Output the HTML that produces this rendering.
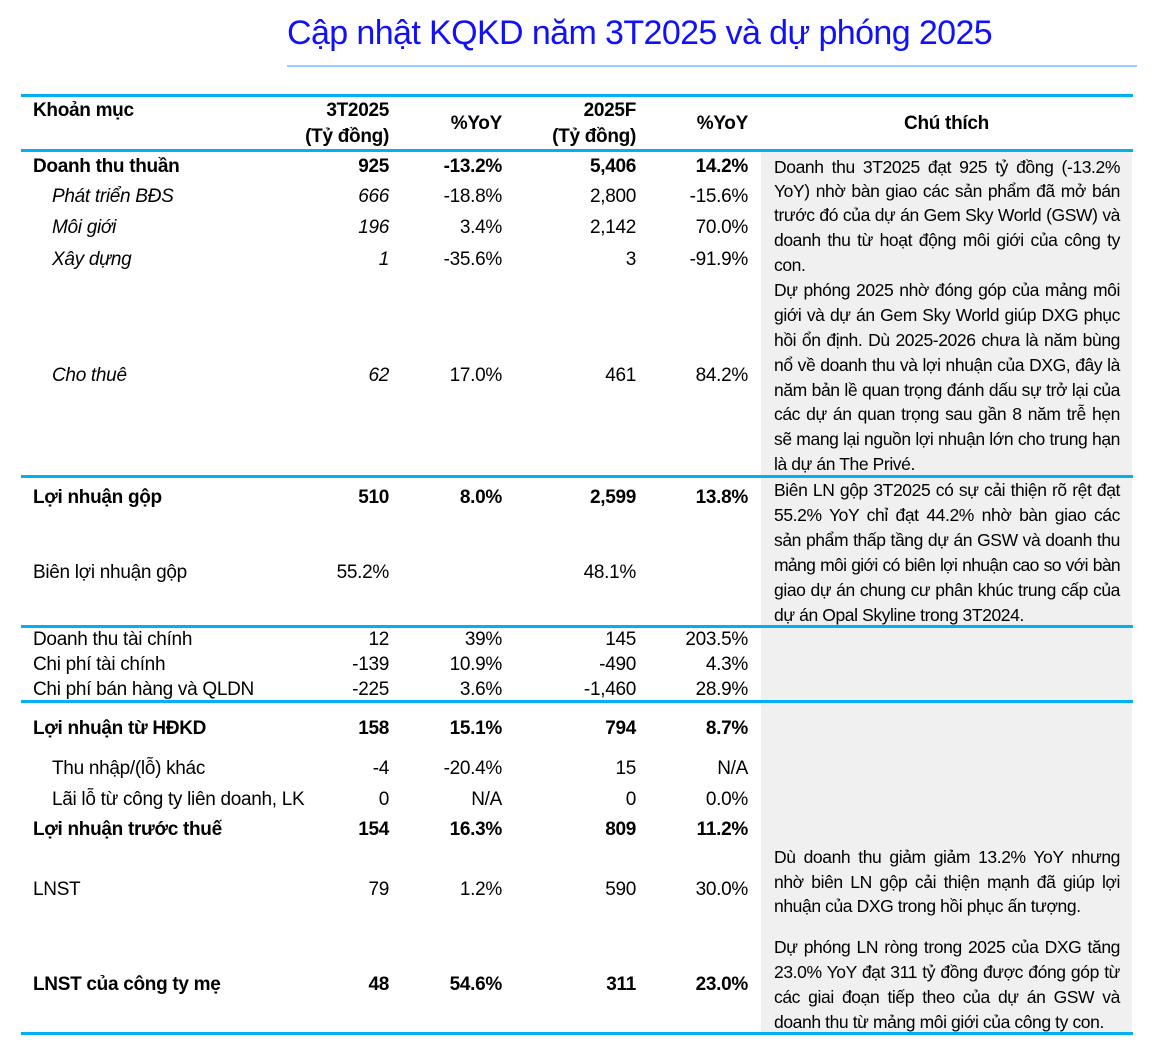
<!DOCTYPE html>
<html><head><meta charset="utf-8">
<style>
body{margin:0;width:1159px;height:1046px;background:#fff;position:relative;overflow:hidden;font-family:"Liberation Sans","DejaVu Sans",sans-serif;color:#000}
.a{position:absolute;line-height:24px;height:24px;font-size:19px;white-space:nowrap;letter-spacing:-0.3px}
.r{text-align:right;width:140px}
.b{font-weight:bold}
.i{font-style:italic}
.hl{position:absolute;left:21px;width:1112px;height:3px;background:#00b0f0}
.n{position:absolute;left:774px;width:346px;font-size:17.5px;line-height:24px;height:24px;white-space:nowrap;text-align:justify;text-align-last:justify;letter-spacing:-0.4px}
.n.l{text-align-last:left}
</style></head><body>
<div style="position:absolute;left:287px;top:14px;width:705px;text-align:center;font-size:34px;color:#1010ff;white-space:nowrap;letter-spacing:-0.6px">Cập nhật KQKD năm 3T2025 và dự phóng 2025</div>
<div style="position:absolute;left:287px;top:65px;width:850px;height:2px;background:#99ccff"></div>
<div style="position:absolute;left:761px;top:152px;width:371px;height:881px;background:#f0f0f0"></div>
<div class="hl" style="top:94px"></div>
<div class="hl" style="top:149px"></div>
<div class="hl" style="top:475px"></div>
<div class="hl" style="top:625px"></div>
<div class="hl" style="top:700px"></div>
<div class="hl" style="top:1032px"></div>

<div>
<div class="a b" style="left:33px;top:99px">Khoản mục</div>
<div class="a b r" style="left:249px;top:99px">3T2025</div>
<div class="a b r" style="left:249px;top:125px">(Tỷ đồng)</div>
<div class="a b r" style="left:362px;top:112px">%YoY</div>
<div class="a b r" style="left:496px;top:99px">2025F</div>
<div class="a b r" style="left:496px;top:125px">(Tỷ đồng)</div>
<div class="a b r" style="left:608px;top:112px">%YoY</div>
<div class="a b" style="left:770px;width:353px;text-align:center;top:112px">Chú thích</div>
</div>

<div>
<div class="a b" style="left:33px;top:155px">Doanh thu thuần</div><div class="a b r" style="left:249px;top:155px">925</div><div class="a b r" style="left:362px;top:155px">-13.2%</div><div class="a b r" style="left:496px;top:155px">5,406</div><div class="a b r" style="left:608px;top:155px">14.2%</div></div>
<div>
<div class="a i" style="left:52px;top:185px">Phát triển BĐS</div><div class="a i r" style="left:249px;top:185px">666</div><div class="a r" style="left:362px;top:185px">-18.8%</div><div class="a r" style="left:496px;top:185px">2,800</div><div class="a r" style="left:608px;top:185px">-15.6%</div></div>
<div>
<div class="a i" style="left:52px;top:216px">Môi giới</div><div class="a i r" style="left:249px;top:216px">196</div><div class="a r" style="left:362px;top:216px">3.4%</div><div class="a r" style="left:496px;top:216px">2,142</div><div class="a r" style="left:608px;top:216px">70.0%</div></div>
<div>
<div class="a i" style="left:52px;top:248px">Xây dựng</div><div class="a i r" style="left:249px;top:248px">1</div><div class="a r" style="left:362px;top:248px">-35.6%</div><div class="a r" style="left:496px;top:248px">3</div><div class="a r" style="left:608px;top:248px">-91.9%</div></div>
<div>
<div class="a i" style="left:52px;top:364px">Cho thuê</div><div class="a i r" style="left:249px;top:364px">62</div><div class="a r" style="left:362px;top:364px">17.0%</div><div class="a r" style="left:496px;top:364px">461</div><div class="a r" style="left:608px;top:364px">84.2%</div></div>
<div>
<div class="a b" style="left:33px;top:486px">Lợi nhuận gộp</div><div class="a b r" style="left:249px;top:486px">510</div><div class="a b r" style="left:362px;top:486px">8.0%</div><div class="a b r" style="left:496px;top:486px">2,599</div><div class="a b r" style="left:608px;top:486px">13.8%</div></div>
<div>
<div class="a" style="left:33px;top:561px">Biên lợi nhuận gộp</div><div class="a r" style="left:249px;top:561px">55.2%</div><div class="a r" style="left:496px;top:561px">48.1%</div></div>
<div>
<div class="a" style="left:33px;top:628px">Doanh thu tài chính</div><div class="a r" style="left:249px;top:628px">12</div><div class="a r" style="left:362px;top:628px">39%</div><div class="a r" style="left:496px;top:628px">145</div><div class="a r" style="left:608px;top:628px">203.5%</div></div>
<div>
<div class="a" style="left:33px;top:653px">Chi phí tài chính</div><div class="a r" style="left:249px;top:653px">-139</div><div class="a r" style="left:362px;top:653px">10.9%</div><div class="a r" style="left:496px;top:653px">-490</div><div class="a r" style="left:608px;top:653px">4.3%</div></div>
<div>
<div class="a" style="left:33px;top:678px">Chi phí bán hàng và QLDN</div><div class="a r" style="left:249px;top:678px">-225</div><div class="a r" style="left:362px;top:678px">3.6%</div><div class="a r" style="left:496px;top:678px">-1,460</div><div class="a r" style="left:608px;top:678px">28.9%</div></div>
<div>
<div class="a b" style="left:33px;top:717px">Lợi nhuận từ HĐKD</div><div class="a b r" style="left:249px;top:717px">158</div><div class="a b r" style="left:362px;top:717px">15.1%</div><div class="a b r" style="left:496px;top:717px">794</div><div class="a b r" style="left:608px;top:717px">8.7%</div></div>
<div>
<div class="a" style="left:52px;top:757px">Thu nhập/(lỗ) khác</div><div class="a r" style="left:249px;top:757px">-4</div><div class="a r" style="left:362px;top:757px">-20.4%</div><div class="a r" style="left:496px;top:757px">15</div><div class="a r" style="left:608px;top:757px">N/A</div></div>
<div>
<div class="a" style="left:52px;top:788px">Lãi lỗ từ công ty liên doanh, LK</div><div class="a r" style="left:249px;top:788px">0</div><div class="a r" style="left:362px;top:788px">N/A</div><div class="a r" style="left:496px;top:788px">0</div><div class="a r" style="left:608px;top:788px">0.0%</div></div>
<div>
<div class="a b" style="left:33px;top:818px">Lợi nhuận trước thuế</div><div class="a b r" style="left:249px;top:818px">154</div><div class="a b r" style="left:362px;top:818px">16.3%</div><div class="a b r" style="left:496px;top:818px">809</div><div class="a b r" style="left:608px;top:818px">11.2%</div></div>
<div>
<div class="a" style="left:33px;top:878px">LNST</div><div class="a r" style="left:249px;top:878px">79</div><div class="a r" style="left:362px;top:878px">1.2%</div><div class="a r" style="left:496px;top:878px">590</div><div class="a r" style="left:608px;top:878px">30.0%</div></div>
<div>
<div class="a b" style="left:33px;top:973px">LNST của công ty mẹ</div><div class="a b r" style="left:249px;top:973px">48</div><div class="a b r" style="left:362px;top:973px">54.6%</div><div class="a b r" style="left:496px;top:973px">311</div><div class="a b r" style="left:608px;top:973px">23.0%</div></div>

<div>
<div class="n" style="top:155px">Doanh thu 3T2025 đạt 925 tỷ đồng (-13.2%</div>
<div class="n" style="top:179px">YoY) nhờ bàn giao các sản phẩm đã mở bán</div>
<div class="n" style="top:203px">trước đó của dự án Gem Sky World (GSW) và</div>
<div class="n" style="top:228px">doanh thu từ hoạt động môi giới của công ty</div>
<div class="n l" style="top:253px">con.</div>
<div class="n" style="top:278px">Dự phóng 2025 nhờ đóng góp của mảng môi</div>
<div class="n" style="top:303px">giới và dự án Gem Sky World giúp DXG phục</div>
<div class="n" style="top:328px">hồi ổn định. Dù 2025-2026 chưa là năm bùng</div>
<div class="n" style="top:353px">nổ về doanh thu và lợi nhuận của DXG, đây là</div>
<div class="n" style="top:378px">năm bản lề quan trọng đánh dấu sự trở lại của</div>
<div class="n" style="top:402px">các dự án quan trọng sau gần 8 năm trễ hẹn</div>
<div class="n" style="top:427px">sẽ mang lại nguồn lợi nhuận lớn cho trung hạn</div>
<div class="n l" style="top:452px">là dự án The Privé.</div>
</div>
<div>
<div class="n" style="top:478px">Biên LN gộp 3T2025 có sự cải thiện rõ rệt đạt</div>
<div class="n" style="top:503px">55.2% YoY chỉ đạt 44.2% nhờ bàn giao các</div>
<div class="n" style="top:528px">sản phẩm thấp tầng dự án GSW và doanh thu</div>
<div class="n" style="top:553px;letter-spacing:-0.65px">mảng môi giới có biên lợi nhuận cao so với bàn</div>
<div class="n" style="top:578px">giao dự án chung cư phân khúc trung cấp của</div>
<div class="n l" style="top:603px">dự án Opal Skyline trong 3T2024.</div>
</div>
<div>
<div class="n" style="top:845px">Dù doanh thu giảm giảm 13.2% YoY nhưng</div>
<div class="n" style="top:870px">nhờ biên LN gộp cải thiện mạnh đã giúp lợi</div>
<div class="n l" style="top:894px">nhuận của DXG trong hồi phục ấn tượng.</div>
</div>
<div>
<div class="n" style="top:935px">Dự phóng LN ròng trong 2025 của DXG tăng</div>
<div class="n" style="top:960px">23.0% YoY đạt 311 tỷ đồng được đóng góp từ</div>
<div class="n" style="top:985px">các giai đoạn tiếp theo của dự án GSW và</div>
<div class="n l" style="top:1010px">doanh thu từ mảng môi giới của công ty con.</div>
</div>
</body></html>
